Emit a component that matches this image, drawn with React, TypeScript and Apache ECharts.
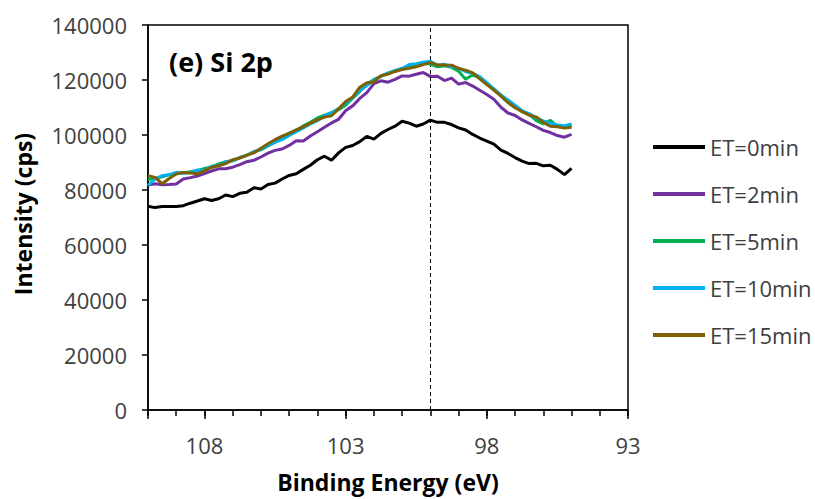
import React, { useEffect, useRef } from "react";
import * as echarts from "echarts";

const bindingEnergy = [
  110, 109.75, 109.5, 109.25, 109, 108.75, 108.5, 108.25, 108, 107.75,
  107.5, 107.25, 107, 106.75, 106.5, 106.25, 106, 105.75, 105.5, 105.25,
  105, 104.75, 104.5, 104.25, 104, 103.75, 103.5, 103.25, 103, 102.75,
  102.5, 102.25, 102, 101.75, 101.5, 101.25, 101, 100.75, 100.5, 100.25,
  100, 99.75, 99.5, 99.25, 99, 98.75, 98.5, 98.25, 98, 97.75,
  97.5, 97.25, 97, 96.75, 96.5, 96.25, 96, 95.75, 95.5, 95.25,
  95,
];

const et0 = [
  74100, 73600, 74000, 74000, 74000, 74300, 75200, 76000, 76800, 76200,
  76800, 78200, 77600, 78800, 79200, 80800, 80400, 82000, 82500, 84000,
  85300, 85900, 87500, 89000, 91000, 92300, 90800, 93500, 95500, 96200,
  97600, 99500, 98500, 100600, 102000, 103200, 105000, 104300, 103200, 104000,
  105400, 104600, 104600, 103800, 102600, 101800, 100200, 98900, 97800, 96700,
  94500, 93300, 91800, 90500, 89600, 89700, 88800, 89000, 87500, 85600,
  87900,
];

const et2 = [
  81800, 82300, 81900, 82000, 82200, 84000, 84500, 85100, 86000, 86900,
  87700, 87700, 88300, 89200, 90300, 90800, 92000, 93400, 94400, 94900,
  96200, 97900, 97800, 99600, 101200, 102800, 104400, 105700, 108800, 110600,
  113300, 115400, 118700, 119700, 119200, 120200, 121500, 121400, 122100, 122700,
  121300, 121400, 119800, 120700, 118500, 119100, 117800, 116300, 114700, 113000,
  110100, 108000, 107100, 105500, 104200, 103000, 101700, 100900, 99800, 99200,
  100200,
];

const et5 = [
  83800, 84200, 84800, 85500, 86000, 86300, 86600, 87000, 87800, 88400,
  89500, 90300, 90700, 91800, 92600, 94000, 94600, 96000, 97500, 98800,
  100700, 101600, 103300, 104600, 106200, 107200, 108000, 109200, 110800, 113400,
  115800, 118400, 120200, 121300, 122400, 123300, 124200, 124700, 125400, 126100,
  125800, 124800, 125200, 124600, 123200, 120300, 121900, 120800, 118800, 116500,
  114400, 112200, 110300, 108600, 107600, 105200, 104000, 105300, 103200, 102800,
  103400,
];

const et10 = [
  81600, 84000, 85200, 85600, 86400, 86100, 86300, 87300, 87100, 88600,
  88900, 90200, 90600, 91800, 92600, 93800, 94900, 96100, 97300, 98300,
  99800, 101200, 102600, 104000, 105200, 107000, 108200, 109600, 111600, 113600,
  116200, 118000, 119900, 121400, 122600, 123500, 124200, 125600, 125900, 126500,
  126800, 125400, 125700, 124800, 124300, 123000, 122400, 121200, 119000, 116800,
  114600, 112700, 110800, 108800, 107800, 106200, 105100, 104300, 103600, 103400,
  104000,
];

const et15 = [
  85200, 84600, 82300, 84200, 85800, 86400, 86200, 85900, 87000, 88200,
  88800, 89600, 91000, 91600, 92700, 93500, 95200, 96800, 98300, 99600,
  100600, 101900, 103000, 104300, 105500, 106500, 107000, 109500, 112200, 113800,
  117400, 119000, 119300, 121600, 122100, 123100, 123800, 124300, 124800, 125600,
  126300, 125500, 125500, 125400, 124200, 123600, 122600, 120400, 118300, 116300,
  114100, 111800, 109900, 108500, 107200, 106600, 104600, 103200, 103000, 102500,
  102800,
];

const seriesNames = ["ET=0min", "ET=2min", "ET=5min", "ET=10min", "ET=15min"];
const seriesValues = [et0, et2, et5, et10, et15];
const seriesColors = ["#000000", "#7030A0", "#00B050", "#00B0F0", "#7F6000"];

const yMin = 0;
const yMax = 140000;
const yStep = 20000;
const xMin = 93;
const xMax = 110;
const xLabelStep = 5;
const xMinorStep = 1;
const xLabels = [108, 103, 98, 93];
const markerEnergy = 100;

const chartTitle = "(e) Si 2p";
const xName = "Binding Energy (eV)";
const yName = "Intensity (cps)";

const FONT = "'Open Sans'";

export default function App() {
  const ref = useRef<HTMLDivElement>(null);

  useEffect(() => {
    if (!ref.current) return;
    const chart = echarts.init(ref.current, undefined, { renderer: "svg" });

    const series: any[] = seriesNames.map((name, i) => ({
      name,
      type: "line",
      xAxisIndex: 0,
      yAxisIndex: 0,
      data: bindingEnergy.map((e, j) => [e, seriesValues[i][j]]),
      showSymbol: false,
      symbol: "none",
      lineStyle: { color: seriesColors[i], width: 3 },
      itemStyle: { color: seriesColors[i] },
      z: 3 + i,
    }));
    series[0].markLine = {
      silent: true,
      symbol: "none",
      label: { show: false },
      lineStyle: { color: "#000", type: [4, 3], width: 1 },
      data: [{ xAxis: markerEnergy }],
    };

    chart.setOption({
      animation: false,
      backgroundColor: "#ffffff",
      grid: {
        left: 148,
        top: 25,
        right: 187,
        bottom: 89,
        show: true,
        borderColor: "#000",
        borderWidth: 1.5,
        containLabel: false,
      },
      xAxis: [
        {
          type: "value",
          min: xMin,
          max: xMax,
          interval: xMinorStep,
          inverse: true,
          position: "bottom",
          axisLine: { show: true, onZero: false, lineStyle: { color: "#000", width: 1.5 } },
          axisTick: { show: true, length: 6, lineStyle: { color: "#000", width: 1.5 } },
          axisLabel: { show: false },
          splitLine: { show: false },
        },
        {
          type: "value",
          min: xMin,
          max: xMax,
          interval: xLabelStep,
          inverse: true,
          position: "bottom",
          axisLine: { show: false },
          axisTick: { show: true, length: 9, lineStyle: { color: "#000", width: 1.5 } },
          axisLabel: {
            show: true,
            margin: 24,
            fontSize: 22,
            fontFamily: FONT,
            color: "#404040",
            formatter: (v: number) => (xLabels.indexOf(Math.round(v)) >= 0 ? String(Math.round(v)) : ""),
          },
          splitLine: { show: false },
        },
      ],
      yAxis: {
        type: "value",
        min: yMin,
        max: yMax,
        interval: yStep,
        axisLine: { show: true, lineStyle: { color: "#000", width: 1.5 } },
        axisTick: { show: true, length: 6, lineStyle: { color: "#000", width: 1.5 } },
        axisLabel: {
          margin: 21,
          fontSize: 22,
          fontFamily: FONT,
          color: "#404040",
          formatter: (v: number) => String(v),
        },
        splitLine: { show: false },
      },
      legend: {
        orient: "vertical",
        left: 653,
        top: 134,
        padding: 0,
        icon: "rect",
        itemWidth: 52,
        itemHeight: 4,
        itemGap: 21,
        data: seriesNames,
        textStyle: { fontSize: 22, fontFamily: FONT, color: "#404040", lineHeight: 26 },
      },
      graphic: [
        {
          type: "text",
          x: 169,
          y: 61,
          style: {
            text: chartTitle,
            fontSize: 27,
            fontWeight: "bold",
            fontFamily: FONT,
            fill: "#000",
            align: "left",
            verticalAlign: "middle",
          },
        },
        {
          type: "text",
          x: 388,
          y: 482,
          style: {
            text: xName,
            fontSize: 23,
            fontWeight: "bold",
            fontFamily: FONT,
            fill: "#000",
            align: "center",
            verticalAlign: "middle",
          },
        },
        {
          type: "text",
          x: 23,
          y: 214,
          rotation: Math.PI / 2,
          style: {
            text: yName,
            fontSize: 23,
            fontWeight: "bold",
            fontFamily: FONT,
            fill: "#000",
            align: "center",
            verticalAlign: "middle",
          },
        },
      ],
      series,
    });

    return () => chart.dispose();
  }, []);

  return <div ref={ref} style={{ width: 815, height: 499, position: "absolute", left: 0, top: 0 }} />;
}
